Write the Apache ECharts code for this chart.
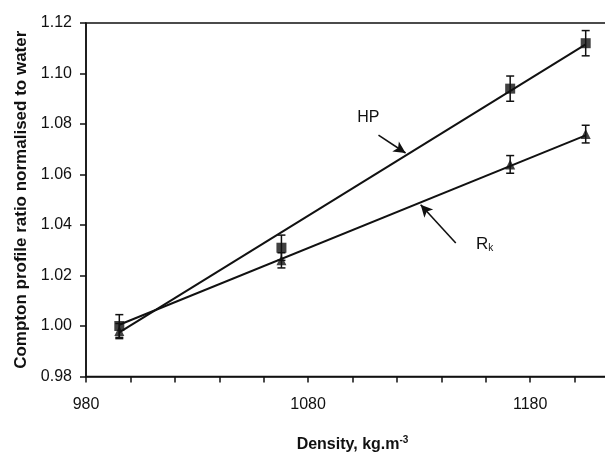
<!DOCTYPE html>
<html>
<head>
<meta charset="utf-8">
<script src="https://cdn.jsdelivr.net/npm/echarts@6/dist/echarts.min.js"></script>
<style>html,body{margin:0;padding:0;background:#fff}#c{width:605px;height:453px}</style>
</head>
<body>
<div id="c"></div>
<script>
// ---- data ----
var density = [995, 1068, 1171, 1205];
var hpValues = [1.000, 1.031, 1.094, 1.112];
var hpErrors = [0.0045, 0.005, 0.005, 0.005];
var rkValues = [0.998, 1.026, 1.064, 1.076];
var rkErrors = [0.003, 0.003, 0.0035, 0.0035];
var hpFitX = [995, 1205];
var hpFitY = [0.9975, 1.1115];
var rkFitX = [995, 1205];
var rkFitY = [1.0005, 1.0755];
var xTickLabels = [980, 1080, 1180];
var yTickLabels = ['0.98','1.00','1.02','1.04','1.06','1.08','1.10','1.12'];

var FONT = 'Liberation Sans, Arial, sans-serif';
function pairs(xs, ys){ return xs.map(function(x,i){ return [x, ys[i]]; }); }
function errData(xs, ys, es){ return xs.map(function(x,i){ return [x, ys[i]-es[i], ys[i]+es[i]]; }); }

function errorBar(params, api){
  var x = api.value(0), lo = api.value(1), hi = api.value(2);
  var pLo = api.coord([x, lo]), pHi = api.coord([x, hi]);
  var w = 4;
  var st = {stroke:'#111', lineWidth:1.5};
  return {type:'group', children:[
    {type:'line', shape:{x1:pLo[0], y1:pLo[1], x2:pHi[0], y2:pHi[1]}, style:st},
    {type:'line', shape:{x1:pLo[0]-w, y1:pLo[1], x2:pLo[0]+w, y2:pLo[1]}, style:st},
    {type:'line', shape:{x1:pHi[0]-w, y1:pHi[1], x2:pHi[0]+w, y2:pHi[1]}, style:st}
  ]};
}

var chart = echarts.init(document.getElementById('c'), null, {renderer:'canvas'});
var arrowLine = {color:'#111', width:1.6, type:'solid'};
chart.setOption({
  animation:false,
  backgroundColor:'#fff',
  grid:{left:86, right:-14, top:23, bottom:76.5, show:true, borderColor:'#111', borderWidth:1.5,
        backgroundColor:'transparent', containLabel:false, outerBoundsMode:'none'},
  xAxis:{
    type:'value', min:980, max:1220, interval:20,
    name:'Density, {n|kg.m}{s|-3}', nameLocation:'middle', nameGap:59,
    nameTextStyle:{fontFamily:FONT, fontSize:16, fontWeight:'bold', color:'#111',
      rich:{n:{fontFamily:FONT, fontSize:16, fontWeight:'bold', color:'#111'},
            s:{fontFamily:FONT, fontSize:10, fontWeight:'bold', color:'#111', verticalAlign:'top', padding:[0,0,9,0]}}},
    axisLine:{show:true, lineStyle:{color:'#111', width:1.5}},
    axisTick:{show:true, length:6, lineStyle:{color:'#111', width:1.5}},
    axisLabel:{fontFamily:FONT, fontSize:16, color:'#111', margin:20,
      formatter:function(v){ return xTickLabels.indexOf(v) >= 0 ? String(v) : ''; }},
    splitLine:{show:false}
  },
  yAxis:{
    type:'value', min:0.98, max:1.12, interval:0.02,
    name:'Compton profile ratio normalised to water', nameLocation:'middle', nameGap:56,
    nameTextStyle:{fontFamily:FONT, fontSize:17, fontWeight:'bold', color:'#111'},
    axisLine:{show:true, lineStyle:{color:'#111', width:1.5}},
    axisTick:{show:true, length:6, lineStyle:{color:'#111', width:1.5}},
    axisLabel:{fontFamily:FONT, fontSize:16, color:'#111', margin:14,
      formatter:function(v){ var s = v.toFixed(2); return yTickLabels.indexOf(s) >= 0 ? s : ''; }},
    splitLine:{show:false}
  },
  series:[
    {type:'line', data:pairs(hpFitX, hpFitY), symbol:'none', lineStyle:{color:'#111', width:2}, z:2,
      markLine:{silent:true, symbol:['none','arrow'], symbolSize:[9,12], lineStyle:arrowLine, label:{show:false},
        data:[[{coord:[1111.7,1.0756]},{coord:[1123.9,1.0685]}]]},
      markPoint:{silent:true, data:[{coord:[1107.1,1.0826], symbol:'circle', symbolSize:0,
        label:{show:true, position:'inside', formatter:'HP', fontFamily:FONT, fontSize:16, color:'#111'}}]}
    },
    {type:'line', data:pairs(rkFitX, rkFitY), symbol:'none', lineStyle:{color:'#111', width:2}, z:2,
      markLine:{silent:true, symbol:['none','arrow'], symbolSize:[9,12], lineStyle:arrowLine, label:{show:false},
        data:[[{coord:[1146.5,1.0329]},{coord:[1130.7,1.0480]}]]},
      markPoint:{silent:true, data:[{coord:[1159.5,1.0322], symbol:'circle', symbolSize:0,
        label:{show:true, position:'inside', formatter:'{r|R}{k|k}', color:'#111',
          rich:{r:{fontFamily:FONT, fontSize:17, color:'#111'}, k:{fontFamily:FONT, fontSize:10, color:'#111', verticalAlign:'bottom', padding:[8,0,0,0]}}}}]}
    },
    {type:'custom', renderItem:errorBar, data:errData(density, hpValues, hpErrors), z:3},
    {type:'custom', renderItem:errorBar, data:errData(density, rkValues, rkErrors), z:3},
    {type:'scatter', data:pairs(density, hpValues), symbol:'rect', symbolSize:10, itemStyle:{color:'#111'}, z:4},
    {type:'scatter', data:pairs(density, rkValues), symbol:'triangle', symbolSize:10, itemStyle:{color:'#111'}, z:4}
  ]
});
</script>
</body>
</html>
